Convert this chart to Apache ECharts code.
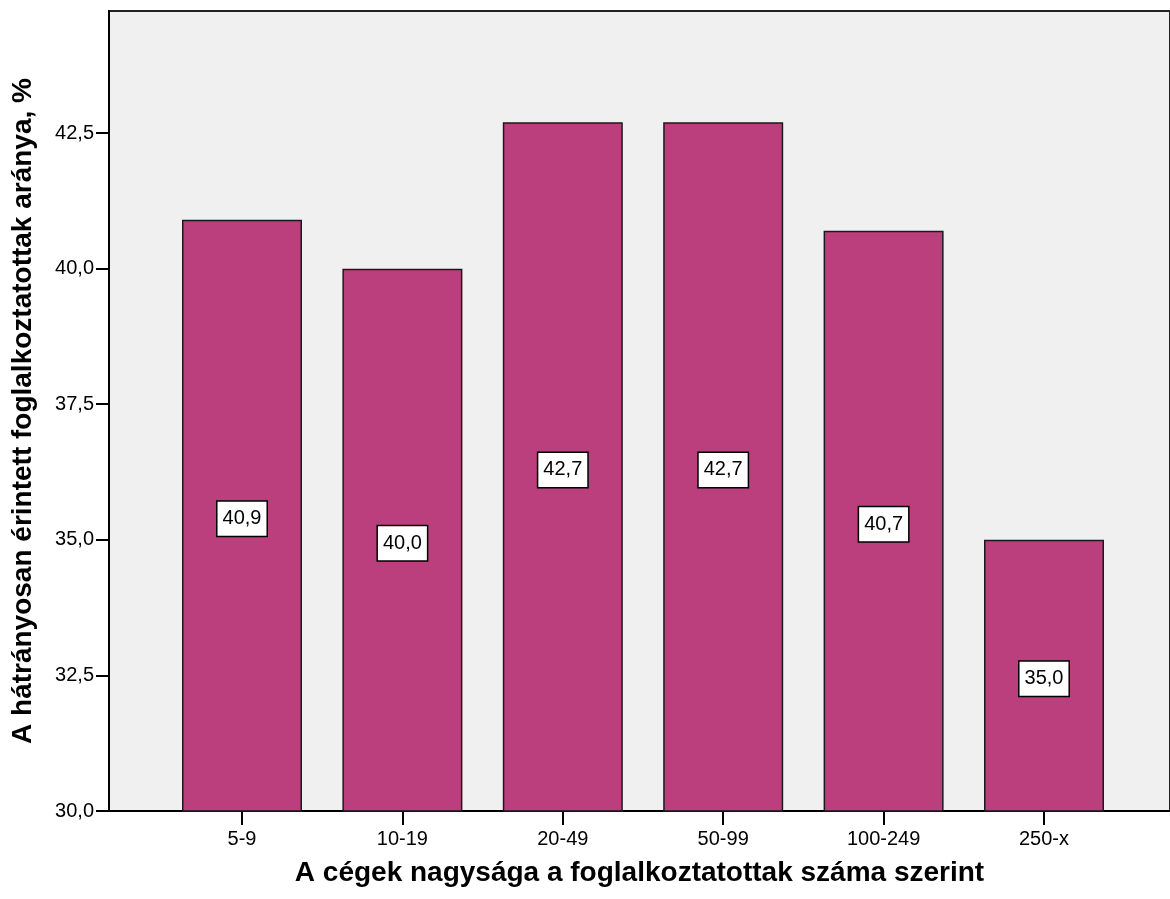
<!DOCTYPE html>
<html>
<head>
<meta charset="utf-8">
<script src="https://cdn.jsdelivr.net/npm/echarts@6/dist/echarts.min.js"></script>
<style>
  html, body { margin: 0; padding: 0; background: #ffffff; }
  #chart { width: 1170px; height: 899px; }
</style>
</head>
<body>
<div id="chart"></div>
<script>
// Company size bands (by number of employees)
const categories = ['5-9', '10-19', '20-49', '50-99', '100-249', '250-x'];
// Share of disadvantaged employees, %
const shares = [40.9, 40.0, 42.7, 42.7, 40.7, 35.0];
// Y axis tick values
const yTicks = [30, 32.5, 35, 37.5, 40, 42.5];

const yMin = 30;
const yMax = 44.75;
const FONT = 'Liberation Sans, Arial, sans-serif';
const fmt = v => v.toFixed(1).replace('.', ',');

const chart = echarts.init(document.getElementById('chart'), null, { renderer: 'canvas' });

chart.setOption({
  animation: false,
  backgroundColor: '#ffffff',
  grid: [
    // plot frame and value axis
    { left: 109, top: 11, width: 1068, height: 800, show: true,
      backgroundColor: '#F0F0F0', borderColor: '#222', borderWidth: 2 },
    // band area for the bars
    { left: 161.8, top: 11, width: 962.4, height: 800 }
  ],
  xAxis: [
    {
      gridIndex: 0, type: 'value', min: 0, max: 1,
      axisLine: { show: true, lineStyle: { color: '#000', width: 2 } },
      axisTick: { show: false }, axisLabel: { show: false }, splitLine: { show: false },
      name: 'A cégek nagysága a foglalkoztatottak száma szerint',
      nameLocation: 'middle', nameGap: 48,
      nameTextStyle: { fontFamily: FONT, fontSize: 28, fontWeight: 'bold', color: '#000' }
    },
    {
      gridIndex: 1, type: 'category', data: categories,
      axisLine: { show: false },
      axisTick: { show: true, alignWithLabel: true, length: 14, lineStyle: { color: '#000', width: 2 } },
      axisLabel: { fontFamily: FONT, fontSize: 20, color: '#000', margin: 18 },
      splitLine: { show: false }
    }
  ],
  yAxis: [
    {
      gridIndex: 0, type: 'value', min: yMin, max: yMax,
      axisLine: { show: true, lineStyle: { color: '#000', width: 2 } },
      axisTick: { show: true, length: 13, customValues: yTicks, lineStyle: { color: '#000', width: 2 } },
      axisLabel: { customValues: yTicks, formatter: v => fmt(v), fontFamily: FONT, fontSize: 20, color: '#000', margin: 15 },
      splitLine: { show: false },
      name: 'A hátrányosan érintett foglalkoztatottak aránya, %',
      nameLocation: 'middle', nameGap: 72,
      nameTextStyle: { fontFamily: FONT, fontSize: 28, fontWeight: 'bold', color: '#000' }
    },
    {
      gridIndex: 1, type: 'value', min: yMin, max: yMax, show: false
    }
  ],
  series: [{
    type: 'bar',
    xAxisIndex: 1, yAxisIndex: 1,
    data: shares,
    barWidth: 120,
    itemStyle: { color: '#BB3F7C', borderColor: '#1a1a1a', borderWidth: 1.5 },
    label: {
      show: true, position: 'inside', offset: [0, 3],
      formatter: p => fmt(p.value),
      fontFamily: FONT, fontSize: 20, color: '#000',
      backgroundColor: '#ffffff', borderColor: '#000', borderWidth: 1.5,
      padding: [8, 5, 6, 5]
    }
  }]
});
</script>
</body>
</html>
